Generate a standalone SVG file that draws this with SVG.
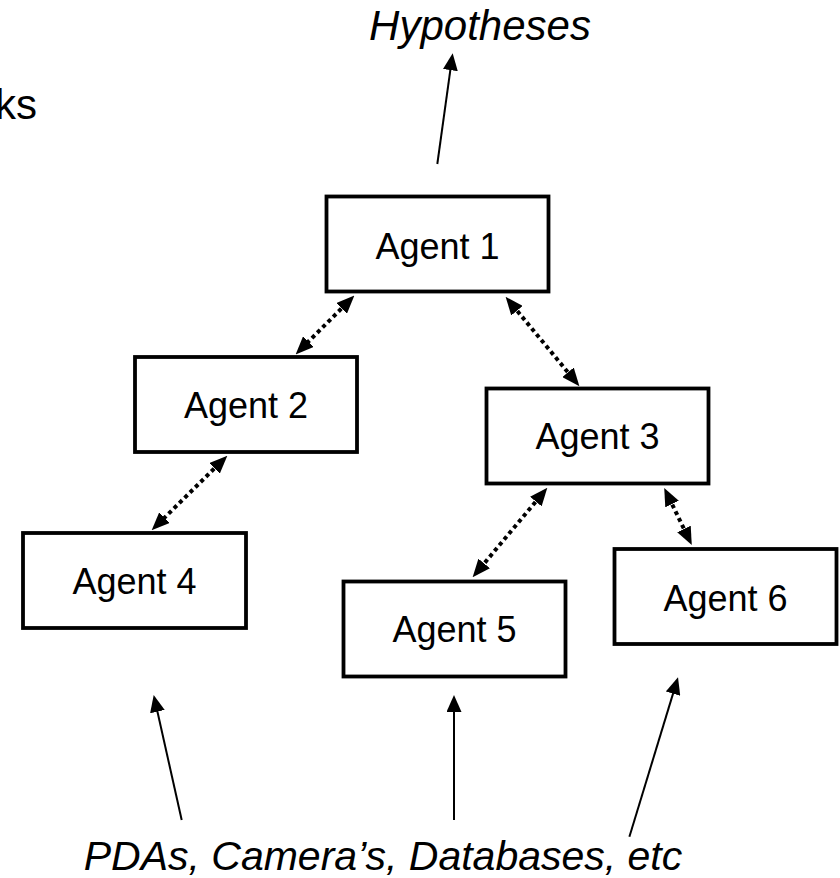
<svg xmlns="http://www.w3.org/2000/svg" width="840" height="878" viewBox="0 0 840 878">
<style>
.box{fill:#fff;stroke:#000;stroke-width:3.8}
.lbl{font-family:"Liberation Sans",Arial,sans-serif;font-size:36px;fill:#000;text-anchor:middle}
.it{font-family:"Liberation Sans",Arial,sans-serif;font-style:italic;fill:#000;text-anchor:middle}
.dot{stroke:#000;stroke-width:4;stroke-dasharray:4 3.5;fill:none;marker-start:url(#hd);marker-end:url(#hd)}
.sol{stroke:#000;stroke-width:2;fill:none;marker-end:url(#hs)}
</style>
<defs>
<marker id="hd" markerUnits="userSpaceOnUse" markerWidth="18" markerHeight="15" refX="7" refY="7.5" orient="auto-start-reverse" viewBox="0 0 18 15">
<path d="M0,0 L18,7.5 L0,15 z" fill="#000"/>
</marker>
<marker id="hs" markerUnits="userSpaceOnUse" markerWidth="17" markerHeight="15" refX="7" refY="7.5" orient="auto" viewBox="0 0 17 15">
<path d="M0,0 L17,7.5 L0,15 z" fill="#000"/>
</marker>
</defs>
<rect width="840" height="878" fill="#fff"/>
<text class="lbl" x="-5" y="119" style="text-anchor:start;font-size:42px">ks</text>
<text class="it" x="480" y="40" style="font-size:42px">Hypotheses</text>
<text class="it" x="383" y="870" style="font-size:41px">PDAs, Camera’s, Databases, etc</text>
<g id="connectors">
<line class="dot" x1="346.6" y1="303.4" x2="303.4" y2="346.6"/>
<line class="dot" x1="512.6" y1="305.3" x2="572.4" y2="377.7"/>
<line class="dot" x1="219.5" y1="463.4" x2="159.5" y2="522.6"/>
<line class="dot" x1="540.3" y1="496.2" x2="479.7" y2="568.8"/>
<line class="dot" x1="669" y1="497.8" x2="687" y2="535.2"/>
<line class="sol" x1="437.3" y1="164" x2="451.3" y2="63.2"/>
<line class="sol" x1="181.7" y1="820" x2="155.9" y2="704.8"/>
<line class="sol" x1="454" y1="820" x2="454" y2="705"/>
<line class="sol" x1="629.4" y1="836.7" x2="675.1" y2="686.9"/>
</g>
<g id="agent1"><rect class="box" x="326.5" y="196.5" width="222" height="95"/><text class="lbl" x="437.5" y="259">Agent 1</text></g>
<g id="agent2"><rect class="box" x="135" y="357" width="222" height="95"/><text class="lbl" x="246" y="418">Agent 2</text></g>
<g id="agent3"><rect class="box" x="486.5" y="388.5" width="222" height="95"/><text class="lbl" x="597.5" y="449">Agent 3</text></g>
<g id="agent4"><rect class="box" x="23" y="533" width="223" height="95"/><text class="lbl" x="134.5" y="594">Agent 4</text></g>
<g id="agent5"><rect class="box" x="343.5" y="581.5" width="222" height="95"/><text class="lbl" x="454.5" y="642">Agent 5</text></g>
<g id="agent6"><rect class="box" x="614.5" y="549" width="222" height="95"/><text class="lbl" x="725.5" y="610.5">Agent 6</text></g>
</svg>
